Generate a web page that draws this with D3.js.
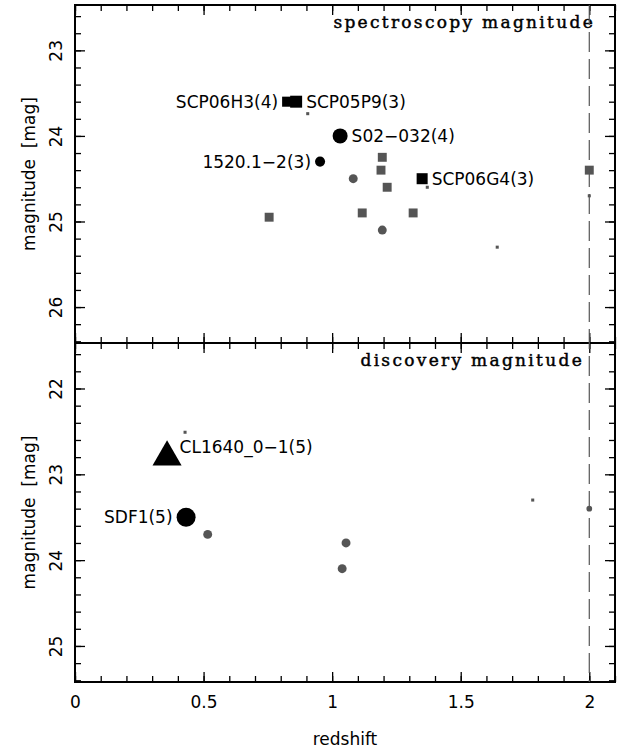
<!DOCTYPE html>
<html>
<head>
<meta charset="utf-8">
<script src="https://cdn.jsdelivr.net/npm/d3@7"></script>
<style>
  body { margin: 0; background: #fff; }
  text { font-family: "DejaVu Sans", sans-serif; }
</style>
</head>
<body>
<div id="viz"></div>
<script>
// data
// top panel: spectroscopy magnitude
var specZ = [0.825, 0.86, 0.905, 1.031, 0.953, 0.755, 1.082, 1.195, 1.19, 1.214,
  1.117, 1.315, 1.195, 1.35, 1.37, 1.642, 2.0, 2.0];
var specMag = [23.6, 23.6, 23.74, 24.0, 24.3, 24.95, 24.5, 24.25, 24.4, 24.6,
  24.9, 24.9, 25.1, 24.5, 24.6, 25.3, 24.4, 24.7];
var specShape = ["square", "square", "square", "circle", "circle", "square", "circle", "square", "square", "square",
  "square", "square", "circle", "square", "square", "square", "square", "square"];
var specWeight = [5.3, 6.3, 1.6, 7.9, 5.3, 4.7, 4.7, 4.7, 4.7, 4.7,
  4.7, 4.7, 4.7, 5.8, 1.6, 1.6, 4.7, 1.6];
var specLabel = ["SCP06H3(4)", "SCP05P9(3)", "", "S02\u2212032(4)", "1520.1\u22122(3)", "", "", "", "", "",
  "", "", "", "SCP06G4(3)", "", "", "", ""];
var specSide = ["left", "right", "", "right", "left", "", "", "", "", "",
  "", "", "", "right", "", "", "", ""];

// bottom panel: discovery magnitude
var discZ = [0.428, 0.358, 0.432, 0.516, 1.054, 1.039, 1.78, 2.0];
var discMag = [22.51, 22.8, 23.5, 23.7, 23.8, 24.1, 23.3, 23.4];
var discShape = ["square", "triangle", "circle", "circle", "circle", "circle", "square", "circle"];
var discWeight = [1.6, 15.3, 10, 4.7, 4.7, 4.7, 1.6, 3.0];
var discLabel = ["", "CL1640_0\u22121(5)", "SDF1(5)", "", "", "", "", ""];
var discSide = ["", "above", "left", "", "", "", "", ""];

var xMajor = [0, 0.5, 1, 1.5, 2];
var xMinor = d3.range(0, 2.11, 0.1);
var zLimit = 2;

// layout
var W = 623, H = 750;
var left = 75, right = 615;
var panelTop = [5, 343];
var panelBottom = [343, 682];
var majorLen = 10, minorLen = 6;
var grey = "#555";

var svg = d3.select("#viz")
  .append("svg")
  .attr("width", W)
  .attr("height", H);

var x = d3.scaleLinear().domain([0, 2.1]).range([left, right]);
var size = d3.scaleLinear().domain([0, 10]).range([0, 19]);

var panels = [
  { title: "spectroscopy magnitude", titleEnd: 595, domain: [22.47, 26.42], major: [23, 24, 25, 26],
    z: specZ, mag: specMag, shape: specShape, weight: specWeight, label: specLabel, side: specSide },
  { title: "discovery magnitude", titleEnd: 584, domain: [21.47, 25.42], major: [22, 23, 24, 25],
    z: discZ, mag: discMag, shape: discShape, weight: discWeight, label: discLabel, side: discSide }
];

function symbolPath(shape, s) {
  if (shape === "circle") return d3.symbol(d3.symbolCircle, Math.PI * s * s / 4)();
  if (shape === "triangle") {
    // d3 triangle: width = 2*sqrt3*r, area = 3*sqrt3*r^2
    var r = s / (2 * Math.sqrt(3));
    return d3.symbol(d3.symbolTriangle, 3 * Math.sqrt(3) * r * r)();
  }
  return d3.symbol(d3.symbolSquare, s * s)();
}

panels.forEach(function(p, k) {
  var y = d3.scaleLinear().domain(p.domain).range([panelTop[k], panelBottom[k]]);
  var yMinor = d3.range(Math.ceil(p.domain[0] * 5) / 5, p.domain[1], 0.2);
  var g = svg.append("g");

  // ticks on all four sides, pointing inward
  function addAxis(axis, tx, ty, labels) {
    var a = g.append("g")
      .attr("transform", "translate(" + tx + "," + ty + ")")
      .call(axis);
    a.select(".domain").remove();
    a.selectAll("line").attr("stroke", "#000").attr("stroke-width", 1.3);
    if (!labels) a.selectAll("text").remove();
    return a;
  }

  addAxis(d3.axisBottom(x).tickValues(xMinor).tickSize(-minorLen).tickFormat(""), 0, panelBottom[k]);
  addAxis(d3.axisTop(x).tickValues(xMinor).tickSize(-minorLen).tickFormat(""), 0, panelTop[k]);
  addAxis(d3.axisTop(x).tickValues(xMajor).tickSize(-majorLen).tickFormat(""), 0, panelTop[k]);
  var xb = addAxis(d3.axisBottom(x).tickValues(xMajor).tickSize(-majorLen)
    .tickPadding(14).tickFormat(d3.format("")), 0, panelBottom[k], k === 1);
  xb.selectAll("text")
    .attr("fill", "#000")
    .attr("font-size", "17px")
    .attr("font-family", "DejaVu Sans");

  addAxis(d3.axisLeft(y).tickValues(yMinor).tickSize(-minorLen).tickFormat(""), left, 0);
  addAxis(d3.axisRight(y).tickValues(yMinor).tickSize(-minorLen).tickFormat(""), right, 0);
  addAxis(d3.axisRight(y).tickValues(p.major).tickSize(-majorLen).tickFormat(""), right, 0);
  var yl = addAxis(d3.axisLeft(y).tickValues(p.major).tickSize(-majorLen).tickFormat(d3.format("d")), left, 0, true);
  yl.selectAll("text")
    .attr("x", null)
    .attr("dy", null)
    .attr("transform", "translate(-13,0) rotate(-90)")
    .attr("text-anchor", "middle")
    .attr("fill", "#000")
    .attr("font-size", "17px")
    .attr("font-family", "DejaVu Sans");

  // axis title
  g.append("text")
    .attr("transform", "translate(35," + (panelTop[k] + panelBottom[k]) / 2 + ") rotate(-90)")
    .attr("text-anchor", "middle")
    .attr("font-size", "17px")
    .style("white-space", "pre")
    .text("magnitude  [mag]");

  // panel title
  g.append("text")
    .attr("x", p.titleEnd)
    .attr("y", panelTop[k] + 23)
    .attr("text-anchor", "end")
    .attr("font-size", "17px")
    .attr("letter-spacing", "2.3px")
    .attr("stroke", "#000")
    .attr("stroke-width", 0.45)
    .style("font-family", "DejaVu Serif")
    .text(p.title);

  // points
  var idx = d3.range(p.z.length);
  g.selectAll("path.pt")
    .data(idx)
    .enter()
    .append("path")
    .attr("class", "pt")
    .attr("transform", function(i) { return "translate(" + x(p.z[i]) + "," + y(p.mag[i]) + ")"; })
    .attr("d", function(i) { return symbolPath(p.shape[i], size(p.weight[i])); })
    .attr("fill", function(i) { return p.label[i] ? "#000" : grey; });

  g.selectAll("text.lab")
    .data(idx.filter(function(i) { return p.label[i]; }))
    .enter()
    .append("text")
    .attr("class", "lab")
    .attr("font-size", "17px")
    .attr("fill", "#000")
    .attr("text-anchor", function(i) { return p.side[i] === "left" ? "end" : "start"; })
    .attr("x", function(i) {
      var s = size(p.weight[i]);
      if (p.side[i] === "left") return x(p.z[i]) - s / 2 - 4;
      if (p.side[i] === "above") return x(p.z[i]) + s / 2 - 2;
      return x(p.z[i]) + s / 2 + 4;
    })
    .attr("y", function(i) {
      if (p.side[i] === "above") return y(p.mag[i]) - 4;
      return y(p.mag[i]) + 6;
    })
    .text(function(i) { return p.label[i]; });

  // frame
  g.append("rect")
    .attr("x", left)
    .attr("y", panelTop[k])
    .attr("width", right - left)
    .attr("height", panelBottom[k] - panelTop[k])
    .attr("fill", "none")
    .attr("stroke", "#000")
    .attr("stroke-width", 2);
});

// dashed limit line at z = 2 across both panels
svg.append("line")
  .attr("x1", x(zLimit))
  .attr("x2", x(zLimit))
  .attr("y1", panelTop[0])
  .attr("y2", panelBottom[1])
  .attr("stroke", grey)
  .attr("stroke-width", 1.2)
  .attr("stroke-dasharray", "20,7");

svg.append("text")
  .attr("x", (left + right) / 2)
  .attr("y", 745)
  .attr("text-anchor", "middle")
  .attr("font-size", "17px")
  .text("redshift");
</script>
</body>
</html>
